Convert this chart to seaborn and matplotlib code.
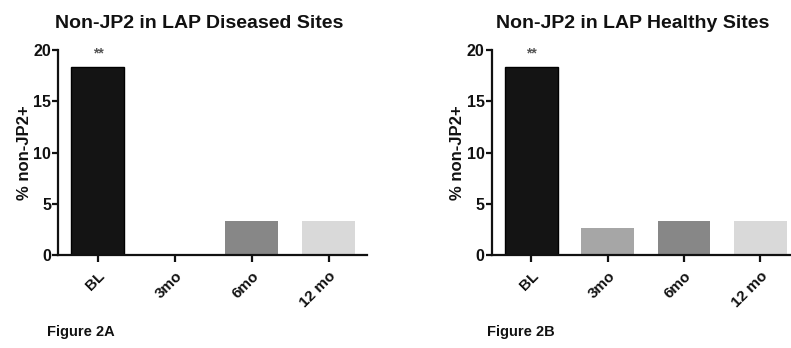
import numpy as np
import pandas as pd
import matplotlib
matplotlib.use('Agg')
import matplotlib.pyplot as plt
import seaborn as sns

categories = ['BL', '3mo', '6mo', '12 mo']
diseased = [18.4, 0.0, 3.3, 3.3]
healthy = [18.4, 2.6, 3.3, 3.3]
bar_colours = ['#141414', '#a6a6a6', '#878787', '#d9d9d9']
titles = ['Non-JP2 in LAP Diseased Sites', 'Non-JP2 in LAP Healthy Sites']
fig_labels = ['Figure 2A', 'Figure 2B']

sns.set_style('ticks')
plt.rcParams['font.family'] = ['Liberation Sans', 'DejaVu Sans']
plt.rcParams['font.weight'] = 'bold'
plt.rcParams['text.color'] = '#111111'
plt.rcParams['axes.labelcolor'] = '#111111'
plt.rcParams['xtick.color'] = '#111111'
plt.rcParams['ytick.color'] = '#111111'
plt.rcParams['axes.edgecolor'] = '#111111'

fig = plt.figure(figsize=(7.91, 3.48), dpi=100)
ax1 = fig.add_axes([0.0733, 0.267, 0.3906, 0.589])
ax2 = fig.add_axes([0.6216, 0.267, 0.388, 0.589])

for ax, vals, title, flab, fx in zip((ax1, ax2), (diseased, healthy), titles,
                                     fig_labels, (0.059, 0.616)):
    df = pd.DataFrame({'time': categories, 'pct': vals})
    sns.barplot(data=df, x='time', y='pct', hue='time', palette=bar_colours,
                legend=False, width=0.69, ax=ax, saturation=1,
                edgecolor='none')
    # dark outline on baseline bar
    ax.patches[0].set_edgecolor('#000000')
    ax.patches[0].set_linewidth(1.0)
    ax.set_ylim(0, 20)
    ax.set_xlim(-0.52, 3.5)
    ax.set_yticks([0, 5, 10, 15, 20])
    ax.set_xlabel('')
    ax.set_ylabel('% non-JP2+', fontsize=12, fontweight='bold', labelpad=1)
    ax.set_title(title, fontsize=14, fontweight='bold', pad=16, x=0.458)
    sns.despine(ax=ax)
    for s in ('left', 'bottom'):
        ax.spines[s].set_linewidth(1.6)
    ax.tick_params(axis='y', width=1.6, length=4, pad=1, labelsize=11.5)
    ax.tick_params(axis='x', width=1.6, length=5, pad=5, labelsize=11)
    for lab in ax.get_xticklabels():
        lab.set_rotation(45)
        lab.set_ha('right')
        lab.set_rotation_mode('anchor')
        lab.set_fontweight('bold')
    for lab in ax.get_yticklabels():
        lab.set_fontweight('bold')
    ax.text(0, vals[0] + 0.6, '**', ha='center', va='bottom', fontsize=10,
            color='#555555')
    fig.text(fx, 0.046, flab, fontsize=10.5, fontweight='bold', va='center')

fig.savefig('out.png', dpi=100)
